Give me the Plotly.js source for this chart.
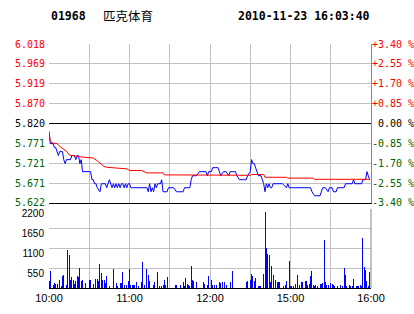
<!DOCTYPE html>
<html><head><meta charset="utf-8">
<script src="https://cdn.plot.ly/plotly-3.0.1.min.js"></script>
<style>html,body{margin:0;padding:0;background:#fff}#chart{width:414px;height:314px}</style>
</head><body><div id="chart"></div><script>
const stockCode = '01968';
const stockName = '匹克体育';
const stamp = '2010-11-23 16:03:40';
const prevClose = 5.820;

const priceTickVals = [5.622, 5.671, 5.721, 5.771, 5.820, 5.870, 5.919, 5.969, 6.018];
const priceTickText = ['5.622', '5.671', '5.721', '5.771', '5.820', '5.870', '5.919', '5.969', '6.018'];
const pctTickText = ['-3.40 %', '-2.55 %', '-1.70 %', '-0.85 %', '\u00a00.00 %', '+0.85 %', '+1.70 %', '+2.55 %', '+3.40 %'];
const timeTickVals = [0, 30, 60, 90, 120, 150, 180, 210, 240];
const timeTickText = ['10:00', '', '11:00', '', '12:00', '', '15:00', '', '16:00'];
const volTickVals = [0, 550, 1100, 1650, 2200];
const volTickText = ['', '550', '1100', '1650', '2200'];

// minutes since 10:00 (trading minutes; 12:30 joins 14:30)
const priceT = [0,1,3,4,5,7,8,10,11,12,
13,16,17,19,20,21,22,23,24,25,
31,32,33,34,35,36,38,39,42,43,
45,46,47,48,49,50,51,52,53,54,
55,56,57,58,59,60,61,62,72,73,
74,75,76,77,78,79,80,81,83,84,
85,88,89,92,93,95,100,101,105,106,
107,110,112,114,117,118,119,121,122,126,
128,130,132,134,135,137,139,140,142,145,
147,148,150,151,152,153,154,156,158,160,
161,162,163,164,165,166,167,172,174,177,
178,179,195,196,198,202,203,204,206,208,
209,211,212,214,215,220,221,226,227,228,
233,234,236,237,238,239];
const price = [5.80,5.77,5.77,5.76,5.76,5.74,5.75,5.75,5.73,5.72,
5.73,5.73,5.74,5.74,5.73,5.74,5.74,5.72,5.73,5.70,
5.70,5.68,5.68,5.67,5.67,5.66,5.65,5.67,5.67,5.66,
5.68,5.67,5.66,5.67,5.66,5.67,5.66,5.67,5.66,5.67,
5.67,5.66,5.67,5.66,5.67,5.67,5.66,5.66,5.66,5.66,
5.65,5.67,5.65,5.66,5.65,5.67,5.66,5.67,5.67,5.68,
5.65,5.65,5.66,5.66,5.66,5.65,5.65,5.66,5.66,5.68,
5.69,5.69,5.70,5.70,5.70,5.69,5.70,5.70,5.71,5.71,
5.69,5.70,5.70,5.69,5.70,5.70,5.70,5.69,5.68,5.68,
5.68,5.69,5.70,5.73,5.72,5.72,5.71,5.69,5.69,5.67,
5.65,5.67,5.66,5.67,5.66,5.66,5.67,5.67,5.67,5.66,
5.67,5.66,5.66,5.65,5.64,5.64,5.65,5.66,5.66,5.65,
5.66,5.66,5.65,5.65,5.66,5.66,5.67,5.67,5.68,5.67,
5.67,5.68,5.68,5.70,5.69,5.68];

const avgT = [0,1,3,6,8,11,13,15,16,23,31,33,36,38,41,43,53,58,60,69,73,85,86,105,107,150,151,160,161,177,178,197,198,239];
const avgPrice = [5.800,5.775,5.771,5.770,5.763,5.756,5.751,5.742,5.741,5.737,
5.736,5.734,5.727,5.722,5.713,5.711,5.709,5.707,5.703,5.703,
5.697,5.697,5.692,5.692,5.691,5.691,5.693,5.693,5.686,5.686,
5.684,5.684,5.681,5.681];

const volT = [0,1,3,4,5,6,8,9,10,11,
13,14,15,16,17,18,19,20,21,22,
23,24,25,27,30,31,33,35,36,37,
38,39,40,41,42,43,45,48,50,51,
53,54,55,56,58,59,60,61,62,63,
64,65,67,69,70,71,73,74,75,78,
79,81,82,84,85,86,87,88,94,95,
98,100,101,102,103,104,105,106,107,108,
110,115,116,118,119,121,122,123,125,127,
128,129,131,132,135,137,147,148,150,151,
152,153,154,156,157,158,160,161,162,163,
164,165,166,167,169,170,171,172,175,176,
177,179,180,181,182,184,185,187,188,189,
191,192,193,194,195,196,197,198,199,200,
202,203,204,205,206,207,208,210,211,212,
213,215,217,219,220,221,222,224,225,226,
227,229,230,231,232,233,234,235,236,237,
238,239];
const volume = [186,482,93,139,111,120,232,65,343,371,
93,1067,909,214,306,214,111,186,325,306,
557,186,214,139,232,232,120,250,250,186,
677,418,214,232,139,343,65,529,139,65,
139,139,436,93,93,186,529,93,93,93,
93,167,65,167,715,93,529,371,186,93,
167,455,46,46,93,232,93,315,93,93,
93,158,46,278,111,93,65,603,232,204,
158,158,120,93,343,213,93,93,93,158,
139,167,158,93,158,464,176,195,232,399,
343,186,278,65,65,65,399,2107,1104,956,
928,158,622,371,232,158,158,158,65,93,
204,761,65,65,65,111,371,74,167,167,
204,186,93,120,343,482,93,65,93,65,
120,120,148,1345,158,93,93,139,111,93,
65,65,93,65,566,371,65,93,65,65,
260,65,65,65,93,65,1383,575,501,186,
65,455];

const RED = '#ff0000', GREEN = '#006600', BLUE = '#0000ff', GRID = '#c0c0c0';
function colorFor(v) { return v > prevClose + 1e-9 ? RED : (v < prevClose - 1e-9 ? GREEN : '#000000'); }
const leftText = priceTickText.map((t, i) => '<span style="color:' + colorFor(priceTickVals[i]) + '">' + t + '</span>');
const rightText = pctTickText.map((t, i) => '<span style="color:' + colorFor(priceTickVals[i]) + '">' + t + '</span>');

const mono = 'DejaVu Sans Mono, Liberation Mono, monospace';
const sans = 'Liberation Sans, Arial, sans-serif';

const traces = [
  {type: 'scatter', mode: 'lines', x: priceT, y: price, xaxis: 'x', yaxis: 'y',
   line: {color: BLUE, width: 1}, hoverinfo: 'skip'},
  {type: 'scatter', mode: 'lines', x: avgT, y: avgPrice, xaxis: 'x', yaxis: 'y3',
   line: {color: RED, width: 1}, hoverinfo: 'skip'},
  {type: 'bar', x: volT, y: volume, xaxis: 'x2', yaxis: 'y2', width: 0.75,
   marker: {color: BLUE, line: {width: 0}}, hoverinfo: 'skip'}
];

const layout = {
  width: 414, height: 314,
  margin: {l: 49, r: 43, t: 44, b: 26, pad: 0},
  paper_bgcolor: '#ffffff', plot_bgcolor: '#ffffff',
  showlegend: false, bargap: 0,
  xaxis: {domain: [0, 1], anchor: 'y', range: [0, 240], tickvals: timeTickVals, showticklabels: false,
          ticks: '', showgrid: true, gridcolor: GRID, gridwidth: 1, zeroline: false,
          showline: true, linecolor: '#000000', linewidth: 1},
  yaxis: {domain: [0.3484, 1], anchor: 'x', range: [5.622, 6.018], tickvals: priceTickVals, ticktext: leftText,
          tickfont: {family: mono, size: 10, color: '#000'}, ticks: '', showgrid: true, gridcolor: GRID,
          zeroline: false, showline: false, ticklabelstandoff: 3},
  yaxis3: {overlaying: 'y', side: 'right', anchor: 'x', range: [5.622, 6.018], tickvals: priceTickVals,
           ticktext: rightText, tickfont: {family: mono, size: 10, color: '#000'}, ticks: '',
           showgrid: false, zeroline: false, showline: true, linecolor: '#888888', linewidth: 1,
           ticklabelstandoff: -2},
  xaxis2: {domain: [0, 1], anchor: 'y2', range: [0, 240], tickvals: timeTickVals, ticktext: timeTickText,
           tickfont: {family: sans, size: 11, color: '#000'}, ticks: '', showgrid: true, gridcolor: GRID,
           zeroline: false, showline: true, linecolor: '#000000', linewidth: 1},
  yaxis2: {domain: [0, 0.3238], anchor: 'x2', range: [0, 2200], tickvals: volTickVals, ticktext: volTickText,
           tickfont: {family: sans, size: 10, color: '#000'}, ticks: '', showgrid: true, gridcolor: GRID,
           zeroline: false, showline: false, ticklabelshift: 5, ticklabelstandoff: 4},
  shapes: [
    {type: 'line', xref: 'x domain', x0: 0, x1: 1, yref: 'y', y0: prevClose, y1: prevClose,
     line: {color: '#000000', width: 1}},
    {type: 'line', xref: 'x2 domain', x0: 1, x1: 1, yref: 'y2 domain', y0: 0, y1: 1,
     line: {color: '#888888', width: 1}}
  ],
  annotations: [
    {xref: 'paper', yref: 'paper', x: 0, y: 1.1148, xanchor: 'left', yanchor: 'middle', showarrow: false,
     text: '<b>' + stockCode + '</b>', font: {family: mono, size: 11.5, color: '#000'}},
    {xref: 'paper', yref: 'paper', x: 0.163, y: 1.1148, xanchor: 'left', yanchor: 'middle', showarrow: false,
     text: stockName, font: {family: 'Noto Sans CJK SC', size: 12.5, color: '#000'}},
    {xref: 'paper', yref: 'paper', x: 0.582, y: 1.1148, xanchor: 'left', yanchor: 'middle', showarrow: false,
     text: '<b>' + stamp + '</b>', font: {family: mono, size: 11.5, color: '#000'}}
  ]
};

Plotly.newPlot('chart', traces, layout, {displayModeBar: false, staticPlot: true});
</script></body></html>
